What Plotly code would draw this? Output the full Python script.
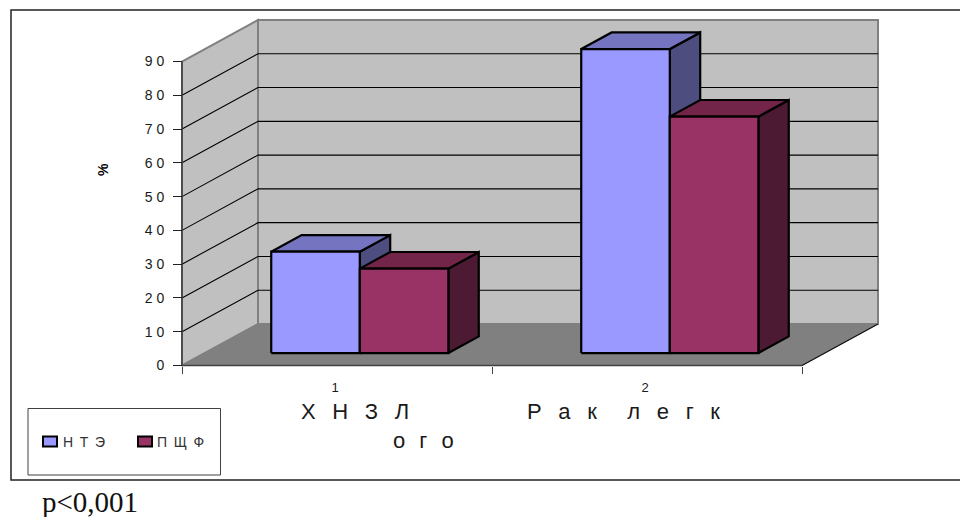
import plotly.graph_objects as go

W, H = 960, 517

# Chart data
category_ticks = ["1\u00a0", "2\u00a0"]
series_gap = "\u00a0\u2009"
series_names = [series_gap.join("НТЭ"), series_gap.join("ПЩФ")]
nte_values = [30, 90]
pshf_values = [25, 70]
value_ticks = [0, 10, 20, 30, 40, 50, 60, 70, 80, 90]
value_labels = ["0", "1\u2009\u200a0", "2\u2009\u200a0", "3\u2009\u200a0", "4\u2009\u200a0", "5\u2009\u200a0",
                "6\u2009\u200a0", "7\u2009\u200a0", "8\u2009\u200a0", "9\u2009\u200a0"]
gap3 = "\u00a0\u00a0\u2009"
cat1_line1 = gap3.join("ХНЗЛ")
cat1_line2 = "\u00a0\u00a0\u200a".join("ого")
cat2_line1 = gap3.join("Рак") + "\u00a0\u00a0\u00a0\u00a0\u00a0" + "\u00a0\u00a0\u2009".join("легк")

# Pixel position of the front axes on the page
X_LEFT, X_RIGHT = 182.0, 802.0
Y_ZERO, Y_TOP = 365.5, 61.5
px_per_cat = (X_RIGHT - X_LEFT) / 2.0
px_per_val = (Y_ZERO - Y_TOP) / 90.0

# Full-page data ranges, so the receding box keeps the same scale as the axes
x_range = [0.5 - X_LEFT / px_per_cat, 0.5 + (W - X_LEFT) / px_per_cat]
y_range = [(Y_ZERO - H) / px_per_val, Y_ZERO / px_per_val]

# Oblique depth of the 3D box in axis units
DEPTH_X = 76.0 / px_per_cat
DEPTH_Y = 41.5 / px_per_val
BAR_W = 1 / 3.5
GAP = 1.5 * BAR_W
D_FRONT, D_BACK = 0.3, 0.7


def project(cat, val, depth=0.0):
    return cat + depth * DEPTH_X, val + depth * DEPTH_Y


def poly(points):
    xs, ys = zip(*[project(*p) for p in points])
    return list(xs) + [xs[0]], list(ys) + [ys[0]]


def add_face(fig, points, fill, line_color, line_width):
    x, y = poly(points)
    fig.add_trace(go.Scatter(
        x=x, y=y, mode="lines", fill="toself", fillcolor=fill,
        line=dict(color=line_color, width=line_width, simplify=False),
        hoverinfo="skip", showlegend=False))


def add_line(fig, points, color, width):
    xs, ys = [], []
    for p in points:
        if p is None:
            xs.append(None)
            ys.append(None)
        else:
            px_, py_ = project(*p)
            xs.append(px_)
            ys.append(py_)
    fig.add_trace(go.Scatter(x=xs, y=ys, mode="lines",
                             line=dict(color=color, width=width),
                             hoverinfo="skip", showlegend=False))


def add_bar(fig, x0, value, front, top, side):
    x1 = x0 + BAR_W
    add_face(fig, [(x1, 0, D_FRONT), (x1, 0, D_BACK), (x1, value, D_BACK), (x1, value, D_FRONT)], side, "#000000", 2.2)
    add_face(fig, [(x0, value, D_FRONT), (x1, value, D_FRONT), (x1, value, D_BACK), (x0, value, D_BACK)], top, "#000000", 2.2)
    add_face(fig, [(x0, 0, D_FRONT), (x1, 0, D_FRONT), (x1, value, D_FRONT), (x0, value, D_FRONT)], front, "#000000", 2.2)


fig = go.Figure()

# Walls and floor of the box
add_face(fig, [(0.5, 0, 1), (2.5, 0, 1), (2.5, 90, 1), (0.5, 90, 1)], "#c0c0c0", "#808080", 2)
add_face(fig, [(0.5, 0, 0), (0.5, 90, 0), (0.5, 90, 1), (0.5, 0, 1)], "#c0c0c0", "#808080", 2)

# Gridlines run across the side wall and then along the back wall
grid = []
for v in value_ticks[1:-1]:
    grid += [(0.5, v, 0), (0.5, v, 1), (2.5, v, 1), None]
add_line(fig, grid, "#000000", 1.1)

add_face(fig, [(0.5, 0, 0), (2.5, 0, 0), (2.5, 0, 1), (0.5, 0, 1)], "#808080", "#808080", 1)
add_line(fig, [(2.5, 0, 0), (2.5, 0, 1)], "#101010", 1.1)

# Bars, back to front within each category
for i in range(len(category_ticks)):
    start = 0.5 + i + GAP / 2
    add_bar(fig, start, nte_values[i], "#9999ff", "#7474c0", "#4d4d80")
    add_bar(fig, start + BAR_W, pshf_values[i], "#993366", "#722549", "#4c1a33")

# Front axis lines
add_line(fig, [(0.5, 90, 0), (0.5, 0, 0), (2.5, 0, 0)], "#404040", 1.6)


def xp(px):
    return px / W


def yp(py):
    return 1 - py / H


def label(text, x, y, size, family="Liberation Sans", color="#1a1a1a", **kw):
    return dict(text=text, x=xp(x), y=yp(y), xref="paper", yref="paper",
                xanchor=kw.pop("xanchor", "left"), yanchor=kw.pop("yanchor", "middle"),
                showarrow=False, font=dict(family=family, size=size, color=color),
                borderpad=0, borderwidth=0, **kw)


def paper_rect(x0, y0, x1, y1, line_color, line_width, fill="rgba(0,0,0,0)"):
    return dict(type="rect", xref="paper", yref="paper", x0=xp(x0), x1=xp(x1), y0=yp(y0), y1=yp(y1),
                line=dict(color=line_color, width=line_width), fillcolor=fill, layer="above")


shapes = [
    paper_rect(11, 10, 975, 480, "#222222", 1.5),
    paper_rect(28, 408.5, 220.5, 475, "#404040", 1),
    paper_rect(43, 436.5, 57, 446.5, "#000000", 2, "#9999ff"),
    paper_rect(138, 436.5, 152, 446.5, "#000000", 2, "#993366"),
]

annotations = [
    label(cat1_line1, 301, 411, 22),
    label(cat1_line2, 393, 440, 22),
    label(cat2_line1, 527, 411, 22),
    label(series_names[0], 63, 442, 14, color="#333333"),
    label(series_names[1], 157, 442, 14, color="#333333"),
    label("<b>%</b>", 103, 170, 14, color="#000000", xanchor="center", yanchor="middle", textangle=-90),
    label("p&lt;0,001", 42, 502, 29, family="Liberation Serif", color="#111111"),
]

fig.update_layout(
    width=W, height=H, autosize=False,
    margin=dict(l=0, r=0, t=0, b=0),
    paper_bgcolor="white", plot_bgcolor="white",
    showlegend=False, hovermode=False,
    shapes=shapes, annotations=annotations,
    xaxis=dict(
        range=x_range, domain=[0, 1], anchor="free", position=1 - Y_ZERO / H,
        showgrid=False, zeroline=False, showline=False,
        tickmode="array", tickvals=[1, 2], ticktext=category_ticks,
        ticks="", ticklen=0, ticklabelstandoff=12,
        tickfont=dict(family="Liberation Sans", size=13, color="#1a1a1a"),
        minor=dict(tickmode="array", tickvals=[0.5, 1.5, 2.5], ticks="outside", ticklen=7,
                   tickwidth=1, tickcolor="#404040", showgrid=False),
    ),
    yaxis=dict(
        range=y_range, domain=[0, 1], anchor="free", position=X_LEFT / W,
        showgrid=False, zeroline=False, showline=False,
        tickmode="array", tickvals=value_ticks, ticktext=value_labels,
        ticks="outside", ticklen=9, tickwidth=1, tickcolor="#202020",
        ticklabelstandoff=6,
        tickfont=dict(family="Liberation Sans", size=14, color="#1a1a1a"),
    ),
)

fig.write_html("out.html", config=dict(displayModeBar=False))
